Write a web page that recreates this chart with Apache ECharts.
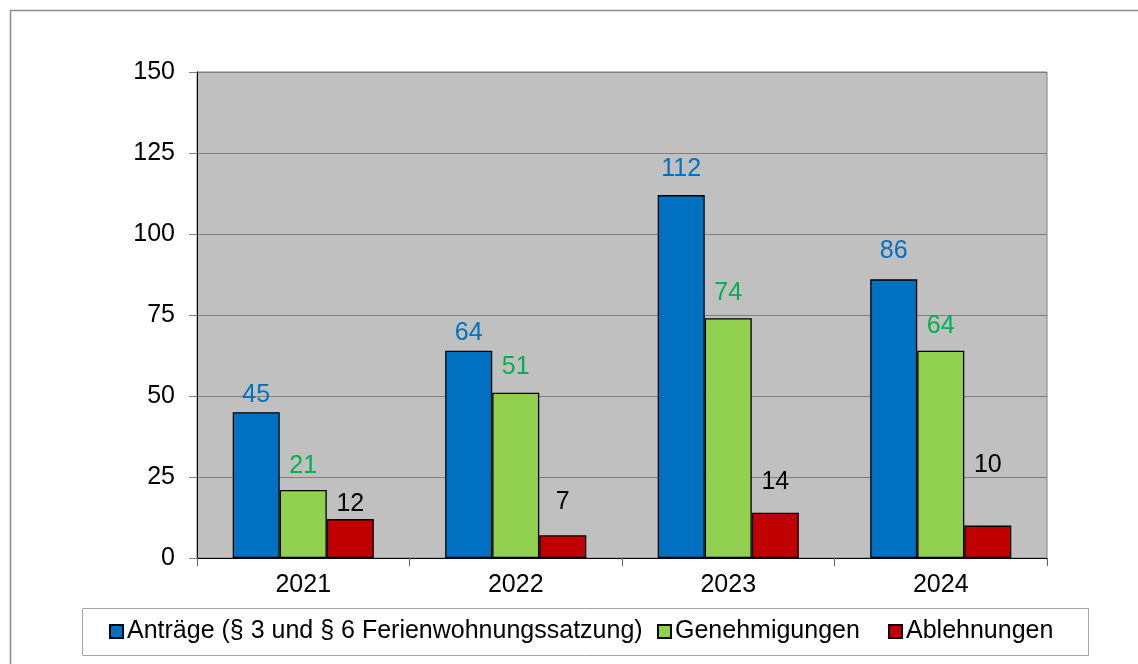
<!DOCTYPE html>
<html>
<head>
<meta charset="utf-8">
<script src="https://cdn.jsdelivr.net/npm/echarts@6/dist/echarts.min.js"></script>
<style>
html,body{margin:0;padding:0;background:#fff;}
#chart{width:1138px;height:664px;}
</style>
</head>
<body>
<div id="chart"></div>
<script>
const categories = ['2021', '2022', '2023', '2024'];
const antraege = [45, 64, 112, 86];
const genehmigungen = [21, 51, 74, 64];
const ablehnungen = [12, 7, 14, 10];
const seriesNames = ['Anträge (§ 3 und § 6 Ferienwohnungssatzung)', 'Genehmigungen', 'Ablehnungen'];
const yTicks = [0, 25, 50, 75, 100, 125, 150];

// label placement (pixel gap from bar top to label centre), style only
const gapA = [17, 18, 26, 28];
const gapG = [24, 26, 25, 25];
const gapR = [15, 33, 31, 60];
// legend item left positions (style only)
const legendLeft = [109, 657, 888];

const FONT = '"Liberation Sans", Arial, sans-serif';
const FS = 25;

function mkSeries(name, values, gaps, color, labelColor) {
  return {
    name: name,
    type: 'bar',
    barGap: '0%',
    barCategoryGap: '33.6%',
    itemStyle: { color: color, borderColor: '#000', borderWidth: 1.3 },
    data: values.map((v, i) => ({
      value: v,
      label: { show: true, position: 'top', distance: gaps[i], verticalAlign: 'middle',
               color: labelColor, fontSize: FS, fontFamily: FONT }
    })),
    emphasis: { disabled: true }
  };
}

const chart = echarts.init(document.getElementById('chart'), null, { renderer: 'canvas' });
chart.setOption({
  animation: false,
  backgroundColor: '#fff',
  graphic: [{
    type: 'rect', left: 8, top: 8, z: -10, silent: true,
    shape: { width: 1200, height: 700 },
    style: { fill: 'none', stroke: '#8a8a8a', lineWidth: 1.5 }
  }, {
    type: 'rect', left: 82, top: 608, z: -5, silent: true,
    shape: { width: 1006, height: 47 },
    style: { fill: '#fff', stroke: '#A6A6A6', lineWidth: 1 }
  }],
  grid: {
    left: 197, right: 91, top: 72, bottom: 106,
    show: true, backgroundColor: '#C0C0C0', borderColor: '#808080', borderWidth: 1
  },
  legend: seriesNames.map((n, i) => ({
    left: legendLeft[i], top: 619, padding: 0,
    itemWidth: 13, itemHeight: 13, itemGap: 0,
    icon: 'rect',
    textStyle: { fontSize: FS, fontFamily: FONT, color: '#000', padding: [0, 0, 0, -1] },
    data: [n]
  })),
  xAxis: {
    type: 'category',
    data: categories,
    axisLine: { lineStyle: { color: '#000', width: 1 } },
    axisTick: { show: true, length: 8, lineStyle: { color: '#606060' } },
    axisLabel: { fontSize: FS, fontFamily: FONT, color: '#000', margin: 15 },
    splitLine: { show: false }
  },
  yAxis: {
    type: 'value',
    min: yTicks[0], max: yTicks[yTicks.length - 1], interval: 25,
    axisLine: { show: true, lineStyle: { color: '#000', width: 1 } },
    axisTick: { show: true, length: 8, lineStyle: { color: '#808080' } },
    axisLabel: { fontSize: FS, fontFamily: FONT, color: '#000', margin: 22 },
    splitLine: { show: true, lineStyle: { color: '#808080', width: 1 } }
  },
  series: [
    mkSeries(seriesNames[0], antraege, gapA, '#0070C0', '#0070C0'),
    mkSeries(seriesNames[1], genehmigungen, gapG, '#92D050', '#00B050'),
    mkSeries(seriesNames[2], ablehnungen, gapR, '#C00000', '#000000')
  ]
});
</script>
</body>
</html>
